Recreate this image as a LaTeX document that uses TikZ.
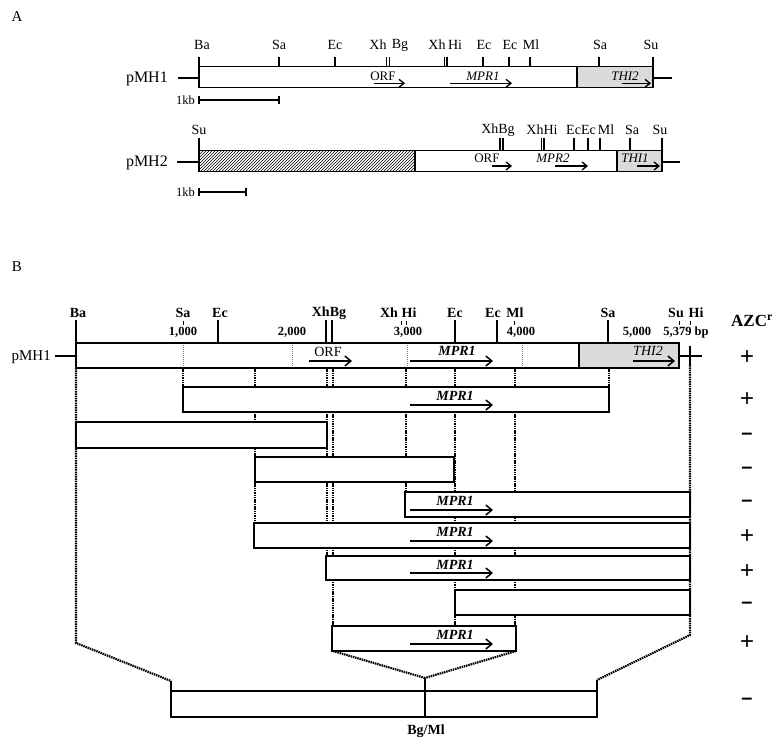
\documentclass[tikz,border=0pt]{standalone}
\usepackage{fontspec}
\setmainfont{Liberation Serif}
\newfontfamily\signfont{Liberation Sans}
\usetikzlibrary{arrows.meta,patterns}
\begin{document}
\begin{tikzpicture}[x=1pt,y=-1pt,
  box/.style={draw,line width=1.2pt,fill=white},
  tk/.style={line width=1.2pt},
  gene/.style={line width=1.3pt,-{Straight Barb[length=5pt,width=8pt,line width=1.3pt]}},
  geneB/.style={line width=1.5pt,-{Straight Barb[length=6pt,width=10pt,line width=1.5pt]}},
  lblA/.style={font=\fontsize{14}{14}\selectfont,inner sep=0pt},
  txtA/.style={font=\fontsize{13}{13}\selectfont,inner sep=0pt},
  txtAi/.style={font=\fontsize{13}{13}\selectfont\itshape,inner sep=0pt},
  lblB/.style={font=\fontsize{14}{14}\selectfont\bfseries,inner sep=0pt},
  numB/.style={font=\fontsize{12.5}{12.5}\selectfont\bfseries,inner sep=0pt},
  geneB lbl/.style={font=\fontsize{14}{14}\selectfont\bfseries\itshape,inner sep=0pt},
  guide/.style={line width=2.2pt,dash pattern=on 1.5pt off 0.8pt},
  gridl/.style={gray,line width=0.6pt,dash pattern=on 1pt off 1pt},
  plus/.style={font=\signfont\fontsize{24}{24}\selectfont,inner sep=0pt},
  minus/.style={font=\signfont\bfseries\fontsize{20}{20}\selectfont,inner sep=0pt},
  greyfill/.style={fill=gray!28}
]
\useasboundingbox[fill=white] (0,0) rectangle (779,747);

% ================= Panel A =================
\node[font=\fontsize{15}{15}\selectfont,inner sep=0pt] (labA) at (17,17) {A};

% --- pMH1 ---
\node[font=\fontsize{16}{16}\selectfont,inner sep=0pt,anchor=east] (pmh1A) at (168,79) {pMH1};
\draw[tk] (178,78) -- (199,78);
\draw[tk] (653,78) -- (672,78);
\draw[box] (199,66.7) rectangle (653,87.3);
\fill[greyfill] (577,66.7) rectangle (653,87.3);
\draw[line width=1.2pt] (199,66.7) rectangle (653,87.3);
\draw[line width=1.2pt] (577,66.7) -- (577,87.3);
\foreach \x in {199,279,335,386.5,389.5,444.5,447,483,509,530,599,653}
  \draw[tk] (\x,56.7) -- (\x,66.7);
\node[lblA] (a1) at (202,45) {Ba};
\node[lblA] (a2) at (279,45) {Sa};
\node[lblA] (a3) at (335,45) {Ec};
\node[lblA] (a4) at (378,45) {Xh};
\node[lblA] (a5) at (400,45) {Bg};
\node[lblA] (a6) at (437,45) {Xh};
\node[lblA] (a7) at (455,45) {Hi};
\node[lblA] (a8) at (484,45) {Ec};
\node[lblA] (a9) at (510,45) {Ec};
\node[lblA] (a10) at (531,45) {Ml};
\node[lblA] (a11) at (600,45) {Sa};
\node[lblA] (a12) at (651,45) {Su};
\node[txtA] (orfA) at (383,76) {ORF};
\draw[gene] (374,83.3) -- (405,83.3);
\node[txtAi] (mpr1A) at (483,76) {MPR1};
\draw[gene] (450,83.3) -- (512,83.3);
\node[txtAi] (thi2A) at (625,76) {THI2};
\draw[gene] (622,83.3) -- (651,83.3);
\node[font=\fontsize{12.5}{12.5}\selectfont,inner sep=0pt,anchor=east] (kb1) at (195,100) {1kb};
\draw[tk] (199,100) -- (279,100);
\draw[tk] (199,96) -- (199,104);
\draw[tk] (279,96) -- (279,104);

% --- pMH2 ---
\node[font=\fontsize{16}{16}\selectfont,inner sep=0pt,anchor=east] (pmh2A) at (168,163) {pMH2};
\draw[tk] (177,162) -- (199,162);
\draw[tk] (662,162) -- (680,162);
\draw[box] (199,150.7) rectangle (662,171.7);
\fill[pattern=north east lines] (199,150.7) rectangle (415,171.7);
\fill[greyfill] (617,150.7) rectangle (662,171.7);
\draw[line width=1.2pt] (199,150.7) rectangle (662,171.7);
\draw[line width=1.2pt] (415,150.7) -- (415,171.7);
\draw[line width=1.2pt] (617,150.7) -- (617,171.7);
\foreach \x in {199,500,503,541.5,544,574,588,600,630,662}
  \draw[tk] (\x,138) -- (\x,150.7);
\node[lblA] (b1) at (199,130) {Su};
\node[lblA] (b2) at (498,130) {XhBg};
\node[lblA] (b3) at (542,130) {XhHi};
\node[lblA] (b4) at (581,130) {EcEc};
\node[lblA] (b5) at (606,130) {Ml};
\node[lblA] (b6) at (632,130) {Sa};
\node[lblA] (b7) at (660,130) {Su};
\node[txtA] (orfA2) at (487,158) {ORF};
\draw[gene] (492,166) -- (512,166);
\node[txtAi] (mpr2A) at (553,158) {MPR2};
\draw[gene] (555,166) -- (588,166);
\node[txtAi] (thi1A) at (635,158) {THI1};
\draw[gene] (637,166) -- (660,166);
\node[font=\fontsize{12.5}{12.5}\selectfont,inner sep=0pt,anchor=east] (kb2) at (195,192) {1kb};
\draw[tk] (199,192) -- (246,192);
\draw[tk] (199,188) -- (199,196);
\draw[tk] (246,188) -- (246,196);

% ================= Panel B =================
\node[font=\fontsize{15}{15}\selectfont,inner sep=0pt] (labB) at (17,267) {B};

% guide lines (drawn first, masked by boxes)
\draw[guide] (76,368) -- (76,643) -- (171,681);
\draw[line width=1.2pt] (171,681) -- (171,691);
\draw[guide] (183,368) -- (183,387);
\draw[guide] (255,368) -- (255,523);
\draw[guide] (327,368) -- (327,556);
\draw[guide] (333,368) -- (333,626);
\draw[guide] (406,368) -- (406,492);
\draw[guide] (455,368) -- (455,626);
\draw[guide] (515,368) -- (515,626);
\draw[guide] (609,368) -- (609,387);
\draw[guide] (690,365) -- (690,635) -- (597,680);
\draw[line width=1.2pt] (597,680) -- (597,691);
\draw[guide] (333,651) -- (425,678);
\draw[guide] (516,651) -- (425,678);

% pMH1 map
\node[font=\fontsize{15}{15}\selectfont,inner sep=0pt,anchor=east] (pmh1B) at (51,357) {pMH1};
\draw[tk] (55,356) -- (76,356);
\draw[tk] (679,356) -- (702,356);
\draw[box] (76,343) rectangle (679,368);
\fill[greyfill] (579,343) rectangle (679,368);
\foreach \x in {183,292,407,522}
  \draw[gridl] (\x,343) -- (\x,368);
\draw[line width=1.2pt] (76,343) rectangle (679,368);
\draw[line width=1.2pt] (579,343) -- (579,368);
\foreach \x in {76,218,326,332,455,497,608}
  \draw[tk] (\x,320) -- (\x,343);
\foreach \x in {183,401,406,514,679,690}
  \draw[line width=1pt] (\x,320.5) -- (\x,325);
\draw[tk] (690,346) -- (690,365);
\node[lblB] (c1) at (78,313) {Ba};
\node[lblB] (c2) at (183,313) {Sa};
\node[lblB] (c3) at (220,313) {Ec};
\node[lblB] (c4) at (329,313) {XhBg};
\node[lblB] (c5) at (389,313) {Xh};
\node[lblB] (c6) at (409,313) {Hi};
\node[lblB] (c7) at (455,313) {Ec};
\node[lblB] (c8) at (493,313) {Ec};
\node[lblB] (c9) at (515,313) {Ml};
\node[lblB] (c10) at (608,313) {Sa};
\node[lblB] (c11) at (676,313) {Su};
\node[lblB] (c12) at (696,313) {Hi};
\node[numB] (n1) at (183,332) {1,000};
\node[numB] (n2) at (292,332) {2,000};
\node[numB] (n3) at (408,332) {3,000};
\node[numB] (n4) at (521,332) {4,000};
\node[numB] (n5) at (637,332) {5,000};
\node[numB] (n6) at (686,332) {5,379 bp};
\node[font=\fontsize{14}{14}\selectfont,inner sep=0pt] (orfB) at (328,352) {ORF};
\draw[geneB] (309,361) -- (352,361);
\node[geneB lbl] (mpr1B) at (457,351) {MPR1};
\draw[geneB] (410,361) -- (493,361);
\node[font=\fontsize{14}{14}\selectfont\itshape,inner sep=0pt] (thi2B) at (648,351) {THI2};
\draw[geneB] (633,361) -- (675,361);
\node[font=\fontsize{17}{17}\selectfont\bfseries,inner sep=0pt] (azc) at (752,321) {AZC\textsuperscript{r}};

% fragments
\draw[box] (183,387) rectangle (609,412);
\node[geneB lbl] (f1l) at (455,396) {MPR1};
\draw[geneB] (410,405) -- (493,405);
\draw[box] (76,422) rectangle (327,448);
\draw[box] (255,457) rectangle (454,482);
\draw[box] (405,492) rectangle (690,517);
\node[geneB lbl] (f4l) at (455,501) {MPR1};
\draw[geneB] (410,510) -- (493,510);
\draw[box] (254,523) rectangle (690,548);
\node[geneB lbl] (f5l) at (455,532) {MPR1};
\draw[geneB] (410,541) -- (493,541);
\draw[box] (326,556) rectangle (690,580);
\node[geneB lbl] (f6l) at (455,565) {MPR1};
\draw[geneB] (410,573) -- (493,573);
\draw[box] (455,590) rectangle (690,615);
\draw[box] (332,626) rectangle (516,651);
\node[geneB lbl] (f8l) at (455,635) {MPR1};
\draw[geneB] (410,644) -- (493,644);

% bottom construct
\draw[box] (171,691) rectangle (597,717);
\draw[line width=1.2pt] (425,678) -- (425,717);
\node[lblB] (bgml) at (426,731) {Bg/Ml};

% AZC signs
\node[plus] (s0) at (747,358) {+};
\node[plus] (s1) at (747,400) {+};
\node[minus] (s2) at (747,436) {–};
\node[minus] (s3) at (747,470) {–};
\node[minus] (s4) at (747,503) {–};
\node[plus] (s5) at (747,537) {+};
\node[plus] (s6) at (747,572) {+};
\node[minus] (s7) at (747,605) {–};
\node[plus] (s8) at (747,643) {+};
\node[minus] (s9) at (747,701) {–};
\end{tikzpicture}
\end{document}
